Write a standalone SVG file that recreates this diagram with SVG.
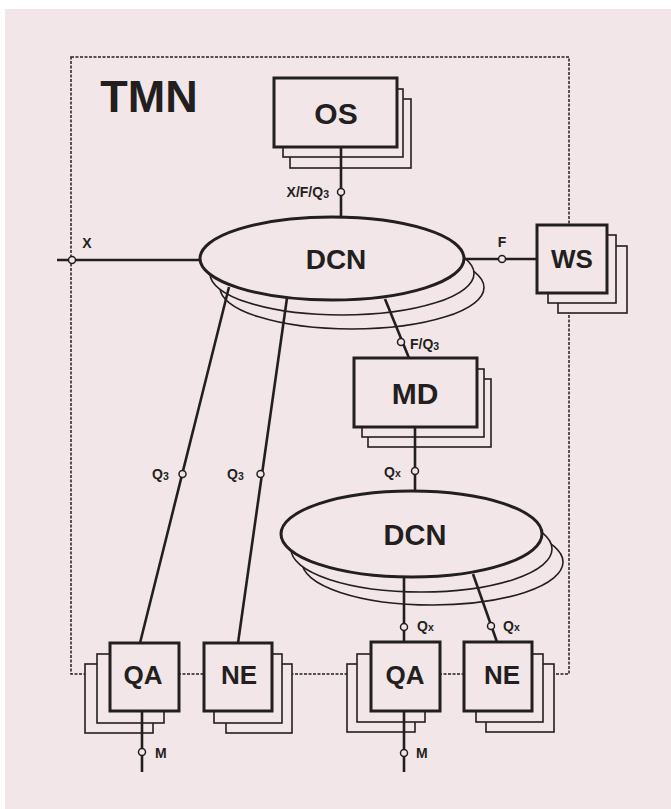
<svg xmlns="http://www.w3.org/2000/svg" width="671" height="809" viewBox="0 0 671 809">
<style>
.bg{fill:#f2e6e8}
.main{fill:#f2e6e8;stroke:#231f20;stroke-width:3}
.sh{fill:#f2e6e8;stroke:#231f20;stroke-width:1.6}
.frame{fill:none;stroke:#231f20;stroke-width:1.5;stroke-dasharray:3 1.5}
.ln{fill:none;stroke:#231f20;stroke-width:2.6}
.pt{fill:#f2e6e8;stroke:#231f20;stroke-width:1.5}
.big{font-family:"Liberation Sans",Arial,sans-serif;font-weight:bold;fill:#231f20;text-anchor:middle}
.lb{font-family:"Liberation Sans",Arial,sans-serif;font-weight:bold;fill:#231f20;font-size:14px}
.sub{font-size:10.5px}
</style>
<rect x="0" y="0" width="671" height="809" fill="#ffffff"/>
<rect x="5" y="9" width="666" height="800" class="bg"/>
<rect class="frame" x="71" y="57" width="498" height="617"/>
<text class="big" x="149" y="112" font-size="45">TMN</text>

<g id="os">
<rect class="sh" x="290" y="99" width="121" height="69"/>
<rect class="sh" x="283" y="89" width="120" height="68"/>
<rect class="main" x="274" y="78" width="123" height="69"/>
<text class="big" x="336" y="124" font-size="30">OS</text>
</g>

<g id="dcn1">
<ellipse class="sh" cx="352" cy="287.5" rx="132" ry="41.5"/>
<ellipse class="sh" cx="342" cy="273.5" rx="132" ry="41.5"/>
<ellipse class="main" cx="332" cy="258.5" rx="132" ry="41.5"/>
<text class="big" x="336" y="269" font-size="28">DCN</text>
</g>

<g id="ws">
<rect class="sh" x="558" y="246" width="69" height="67"/>
<rect class="sh" x="548" y="235" width="68" height="68"/>
<rect class="main" x="537" y="225" width="70" height="68"/>
<text class="big" x="572" y="268" font-size="26">WS</text>
</g>

<g id="md">
<rect class="sh" x="368" y="379" width="123" height="68"/>
<rect class="sh" x="362" y="369" width="122" height="68"/>
<rect class="main" x="354" y="358" width="123" height="69"/>
<text class="big" x="415" y="404" font-size="30">MD</text>
</g>

<g id="dcn2">
<ellipse class="sh" cx="432.5" cy="562" rx="130.5" ry="43"/>
<ellipse class="sh" cx="421.5" cy="549" rx="130.5" ry="43"/>
<ellipse class="main" cx="411.5" cy="534" rx="130.5" ry="43"/>
<text class="big" x="415" y="545" font-size="29">DCN</text>
</g>

<g id="qa1">
<rect class="sh" x="85" y="664" width="68" height="69"/>
<rect class="sh" x="97" y="654" width="67" height="69"/>
<rect class="main" x="110" y="643" width="69" height="68"/>
<text class="big" x="143" y="684" font-size="26">QA</text>
</g>

<g id="ne1">
<rect class="sh" x="226" y="664" width="66" height="69"/>
<rect class="sh" x="214" y="654" width="68" height="69"/>
<rect class="main" x="204" y="643" width="68" height="68"/>
<text class="big" x="239" y="684" font-size="26">NE</text>
</g>

<g id="qa2">
<rect class="sh" x="347" y="664" width="68" height="68"/>
<rect class="sh" x="357" y="654" width="68" height="68"/>
<rect class="main" x="371" y="642" width="69" height="69"/>
<text class="big" x="405" y="684" font-size="26">QA</text>
</g>

<g id="ne2">
<rect class="sh" x="486" y="664" width="68" height="68"/>
<rect class="sh" x="476" y="654" width="67" height="68"/>
<rect class="main" x="464" y="642" width="68" height="69"/>
<text class="big" x="502" y="684" font-size="26">NE</text>
</g>

<g id="connectors">
<line class="ln" x1="341" y1="147" x2="341" y2="217"/>
<circle class="pt" cx="341" cy="192" r="3.5"/>
<text class="lb" x="329" y="197" text-anchor="end">X/F/Q<tspan class="sub" dy="1">3</tspan></text>

<line class="ln" x1="57" y1="260" x2="200" y2="260"/>
<circle class="pt" cx="72" cy="260" r="3.5"/>
<text class="lb" x="87" y="248" text-anchor="middle">X</text>

<line class="ln" x1="464" y1="259" x2="537" y2="259"/>
<circle class="pt" cx="502" cy="259" r="3.5"/>
<text class="lb" x="502" y="247" text-anchor="middle">F</text>

<line class="ln" x1="385" y1="299" x2="409" y2="358"/>
<circle class="pt" cx="401" cy="342" r="3.5"/>
<text class="lb" x="410" y="349">F/Q<tspan class="sub" dy="1">3</tspan></text>

<line class="ln" x1="415" y1="427" x2="415" y2="491"/>
<circle class="pt" cx="415" cy="471" r="3.5"/>
<text class="lb" x="384" y="477">Q<tspan class="sub">x</tspan></text>

<line class="ln" x1="229" y1="287" x2="140" y2="643"/>
<circle class="pt" cx="182.5" cy="474" r="3.5"/>
<text class="lb" x="152" y="479">Q<tspan class="sub" dy="1">3</tspan></text>

<line class="ln" x1="287" y1="298" x2="238" y2="643"/>
<circle class="pt" cx="260.5" cy="474" r="3.5"/>
<text class="lb" x="227" y="479">Q<tspan class="sub" dy="1">3</tspan></text>

<line class="ln" x1="404" y1="577" x2="404" y2="642"/>
<circle class="pt" cx="404" cy="627" r="3.5"/>
<text class="lb" x="417" y="631">Q<tspan class="sub">x</tspan></text>

<line class="ln" x1="473" y1="574" x2="497" y2="642"/>
<circle class="pt" cx="491" cy="626" r="3.5"/>
<text class="lb" x="503" y="631">Q<tspan class="sub">x</tspan></text>

<line class="ln" x1="142" y1="711" x2="142" y2="772"/>
<circle class="pt" cx="142" cy="752" r="3.5"/>
<text class="lb" x="155" y="758">M</text>

<line class="ln" x1="404" y1="711" x2="404" y2="772"/>
<circle class="pt" cx="404" cy="753" r="3.5"/>
<text class="lb" x="416" y="758">M</text>
</g>
</svg>
